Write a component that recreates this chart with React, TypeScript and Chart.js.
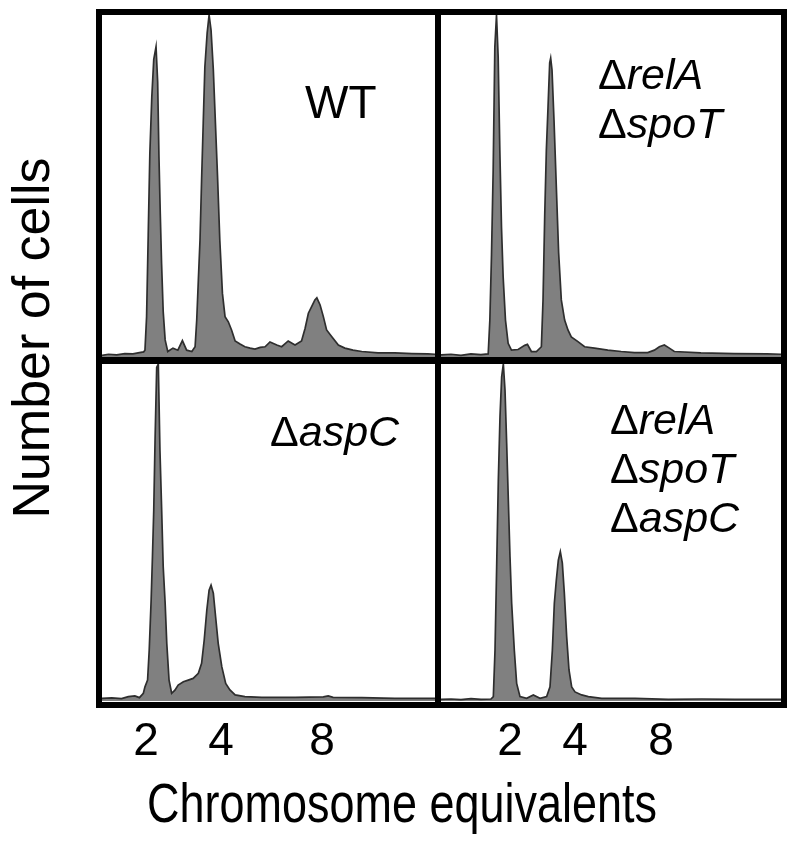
import React, { useEffect, useRef } from "react";
import { Chart, registerables } from "chart.js";

Chart.register(...registerables);

// x: fluorescence channel (0-1023), y: number of cells (% of panel maximum)
const channelMax = 1023;
const tickLabels = ["2", "4", "8"];
const leftTickChannels = [135, 366, 676];
const rightTickChannels = [207, 402, 660];

const wtHistogram: [number, number][] = [
  [0, 0.5], [20, 0.8], [45, 0.6], [70, 1.0], [95, 0.9], [115, 1.3], [128, 1.5],
  [132, 2.0], [137, 11.8], [142, 35.7], [147, 59.6], [153, 76], [159, 87], [166, 90.7],
  [171, 80.5], [175, 58.5], [179, 42], [183, 27.4], [188, 13.3], [194, 5], [202, 1.6],
  [218, 2.6], [233, 2.0], [247, 4.8], [260, 2.0], [276, 1.6], [286, 3.0], [291, 10.8],
  [296, 22.5], [301, 34], [306, 51.8], [311, 68.4], [316, 84.8], [323, 94.7], [329, 100],
  [335, 95.6], [342, 84], [349, 67], [355, 52.6], [362, 34], [370, 18.6], [378, 11.8],
  [388, 10.3], [398, 7.9], [409, 4.7], [424, 3.8], [439, 3.0], [455, 2.6], [470, 2.3],
  [486, 2.8], [501, 3.0], [516, 4.4], [537, 3.5], [552, 3.0], [572, 4.7], [593, 3.5],
  [613, 4.7], [624, 8.4], [634, 12.8], [644, 14.7], [654, 16.7], [660, 17.3], [670, 15.2],
  [680, 11.8], [690, 7.9], [706, 5.9], [726, 3.5], [746, 2.6], [771, 2.0], [798, 1.6],
  [848, 1.2], [900, 1.2], [952, 1.0], [1001, 0.9], [1023, 0.8],
];

const relASpoTHistogram: [number, number][] = [
  [0, 0.6], [30, 0.8], [60, 0.5], [90, 0.9], [120, 0.7], [142, 0.9], [147, 10.8],
  [152, 30], [157, 54.7], [162, 90.6], [167, 100], [172, 87.7], [177, 60.5], [182, 38],
  [187, 23.4], [194, 10.8], [202, 4], [212, 2], [232, 2.2], [252, 3.4], [260, 3.7],
  [272, 1.6], [287, 1.6], [302, 3], [307, 16.7], [312, 41], [317, 60.5], [322, 73],
  [327, 86], [330, 87.4], [334, 84], [340, 69.3], [347, 49.7], [354, 30.4], [362, 16.7],
  [372, 10.8], [382, 7.9], [392, 5.9], [412, 4.5], [432, 3], [462, 2.6], [502, 2],
  [542, 1.6], [582, 1.3], [622, 1.3], [642, 2], [657, 3], [672, 3.5], [687, 2.6],
  [702, 1.6], [782, 1.2], [882, 1], [981, 0.9], [1023, 0.8],
];

const aspCHistogram: [number, number][] = [
  [0, 0.8], [30, 0.9], [60, 0.7], [81, 1.3], [101, 1.5], [115, 1.0], [127, 2.3],
  [132, 4.2], [140, 6.2], [145, 15], [151, 30], [155, 42.8], [159, 56.7], [163, 77.4],
  [168, 99], [173, 100], [178, 74.5], [183, 57.7], [188, 39.9], [194, 29], [199, 17.1],
  [206, 6.2], [214, 2.3], [224, 3.2], [234, 4.7], [250, 5.7], [265, 6.2], [280, 6.7],
  [296, 8.2], [306, 11.2], [314, 18.1], [322, 27], [329, 32.9], [335, 34.4], [342, 32],
  [349, 25], [357, 17.1], [368, 10.2], [380, 5.2], [393, 3.3], [409, 1.8], [439, 1.3],
  [491, 1.1], [593, 1.1], [680, 1.2], [695, 1.5], [710, 1.1], [798, 1.0], [900, 0.8],
  [1023, 0.8],
];

const tripleHistogram: [number, number][] = [
  [0, 0.5], [30, 0.6], [60, 0.4], [90, 0.7], [120, 0.5], [150, 0.6], [157, 1.3],
  [162, 15], [167, 39.9], [172, 65.6], [177, 84.4], [182, 96.2], [187, 100], [192, 92.3],
  [197, 76.5], [202, 59.6], [207, 42.8], [212, 29], [220, 15], [227, 5.2], [237, 1.3],
  [257, 0.8], [277, 1.8], [297, 0.8], [317, 1.3], [327, 4.2], [334, 15], [340, 29],
  [346, 35.9], [352, 41.8], [358, 44.3], [364, 40.9], [370, 32], [377, 19.1], [384, 9.2],
  [392, 4.2], [402, 2.7], [422, 1.8], [442, 1.3], [482, 0.8], [582, 0.8], [682, 0.5],
  [782, 0.6], [882, 0.5], [1023, 0.5],
];

const AXIS_H = 80;

type PanelProps = {
  data: [number, number][];
  width: number;
  height: number;
  tickChannels?: number[];
};

function Panel({ data, width, height, tickChannels }: PanelProps) {
  const ref = useRef<HTMLCanvasElement>(null);
  const axisH = tickChannels ? AXIS_H : 0;
  useEffect(() => {
    const chart = new Chart(ref.current!, {
      type: "line",
      data: {
        datasets: [
          {
            data: data.map(([x, y]) => ({ x, y })),
            borderColor: "#2e2e2e",
            borderWidth: 1.7,
            backgroundColor: "#808080",
            fill: "origin",
            pointRadius: 0,
            tension: 0,
          },
        ],
      },
      options: {
        responsive: false,
        animation: false,
        events: [],
        layout: { padding: 0 },
        plugins: { legend: { display: false }, tooltip: { enabled: false } },
        scales: {
          x: {
            type: "linear",
            min: 0,
            max: channelMax,
            display: !!tickChannels,
            grid: { display: false, drawTicks: false },
            border: { display: false },
            afterFit: (s: any) => {
              s.height = axisH;
            },
            afterBuildTicks: (s: any) => {
              s.ticks = (tickChannels || []).map((v) => ({ value: v }));
            },
            ticks: {
              autoSkip: false,
              maxRotation: 0,
              padding: 14,
              color: "#000",
              font: {
                family: "'Liberation Sans Narrow', 'Liberation Sans', Arial, sans-serif",
                size: 46,
              },
              callback: (_v: any, i: number) => tickLabels[i],
            },
          },
          y: { display: false, min: 0, max: 100 },
        },
      },
    } as any);
    return () => chart.destroy();
  }, []);
  return (
    <canvas
      ref={ref}
      width={width}
      height={height + axisH}
      style={{ display: "block", width, height: height + axisH }}
    />
  );
}

const abs = (s: React.CSSProperties): React.CSSProperties => ({ position: "absolute", ...s });

const labelFont = "'Liberation Sans', Arial, sans-serif";

function Gene({ name }: { name: string }) {
  return (
    <div>
      <span style={{ fontStyle: "normal" }}>Δ</span>
      <span style={{ fontStyle: "italic" }}>{name}</span>
    </div>
  );
}

export default function App() {
  return (
    <div
      style={abs({
        left: 0,
        top: 0,
        width: 798,
        height: 848,
        background: "#fff",
        fontFamily: labelFont,
        color: "#000",
        overflow: "hidden",
      })}
    >
      <div style={abs({ left: 102, top: 15 })}>
        <Panel data={wtHistogram} width={333} height={342} />
      </div>
      <div style={abs({ left: 441, top: 15 })}>
        <Panel data={relASpoTHistogram} width={340} height={342} />
      </div>
      <div style={abs({ left: 102, top: 364 })}>
        <Panel data={aspCHistogram} width={333} height={337} tickChannels={leftTickChannels} />
      </div>
      <div style={abs({ left: 441, top: 364 })}>
        <Panel data={tripleHistogram} width={341} height={337} tickChannels={rightTickChannels} />
      </div>

      {/* frame */}
      <div
        style={abs({
          left: 96,
          top: 9,
          width: 691,
          height: 699,
          border: "6px solid #000",
          boxSizing: "border-box",
        })}
      />
      <div style={abs({ left: 435, top: 9, width: 6, height: 699, background: "#000" })} />
      <div style={abs({ left: 96, top: 357, width: 691, height: 7, background: "#000" })} />

      {/* panel labels */}
      <div style={abs({ left: 305, top: 79, fontSize: 46, lineHeight: 1, whiteSpace: "nowrap" })}>WT</div>
      <div style={abs({ left: 598, top: 50, fontSize: 43, lineHeight: "49px", whiteSpace: "nowrap" })}>
        <Gene name="relA" />
        <Gene name="spoT" />
      </div>
      <div style={abs({ left: 270, top: 410, fontSize: 43, lineHeight: 1, whiteSpace: "nowrap" })}>
        <Gene name="aspC" />
      </div>
      <div style={abs({ left: 610, top: 395, fontSize: 43, lineHeight: "49px", whiteSpace: "nowrap" })}>
        <Gene name="relA" />
        <Gene name="spoT" />
        <Gene name="aspC" />
      </div>

      {/* axis titles */}
      <div
        style={abs({
          left: 31,
          top: 338,
          fontSize: 52,
          lineHeight: 1,
          whiteSpace: "nowrap",
          transform: "translate(-50%, -50%) rotate(-90deg)",
        })}
      >
        Number of cells
      </div>
      <div
        style={abs({
          left: 402,
          top: 775,
          fontSize: 56,
          lineHeight: 1,
          whiteSpace: "nowrap",
          transform: "translateX(-50%) scaleX(0.803)",
        })}
      >
        Chromosome equivalents
      </div>
    </div>
  );
}
